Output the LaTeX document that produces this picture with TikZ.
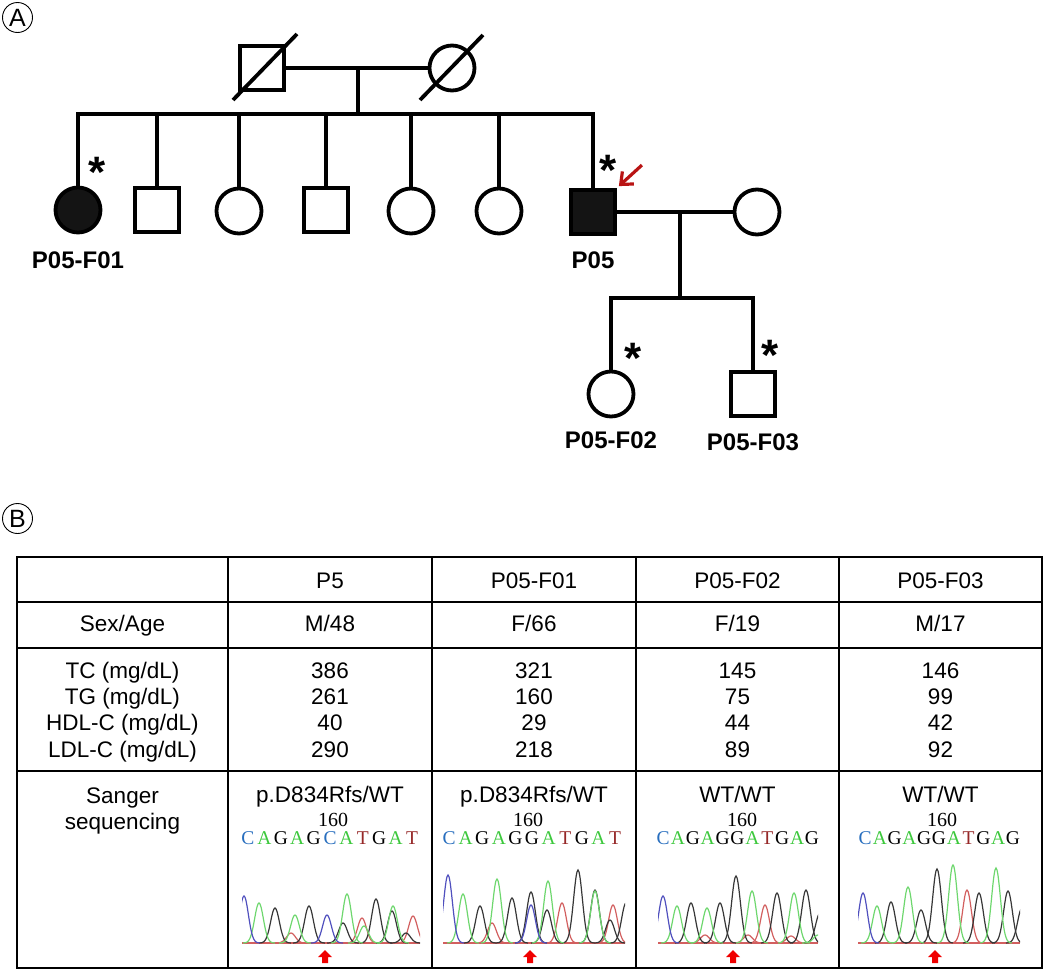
\documentclass[tikz,border=0pt]{standalone}
\usepackage{fontspec}
\setmainfont{Liberation Sans}
\newfontfamily\seqfont{Liberation Serif}
\usetikzlibrary{positioning,arrows.meta}
\definecolor{seqblue}{RGB}{40,110,190}
\definecolor{seqgreen}{RGB}{60,200,60}
\definecolor{seqred}{RGB}{150,40,40}
\definecolor{trblue}{RGB}{80,80,190}
\definecolor{trgreen}{RGB}{110,215,110}
\definecolor{trred}{RGB}{210,95,95}
\definecolor{trblack}{RGB}{55,55,55}
\definecolor{probred}{RGB}{185,20,20}
\definecolor{mutred}{RGB}{240,0,0}
\tikzset{
  male/.style={draw, rectangle, line width=3.8pt, minimum size=44pt, inner sep=0pt},
  female/.style={draw, circle, line width=3.8pt, minimum size=45pt, inner sep=0pt},
  affected/.style={fill=black!92},
  rel/.style={line width=3.8pt},
  idlabel/.style={font=\fontsize{24}{26}\selectfont\bfseries, inner sep=0pt},
  star/.style={font=\fontsize{44}{46}\selectfont\bfseries, inner sep=0pt, anchor=base},
  panel/.style={draw, circle, line width=0.9pt, minimum size=30pt, inner sep=0pt,
    font=\fontsize{25}{25}\selectfont},
  tab/.style={line width=1.8pt},
  cell/.style={font=\fontsize{22.5}{26}\selectfont, inner sep=0pt, anchor=base},
  num/.style={font=\fontsize{20}{22}\seqfont, inner sep=0pt, anchor=base},
  seq/.style={font=\fontsize{19.5}{20}\seqfont, inner sep=0pt, anchor=base},
  baseC/.style={text=seqblue},
  baseA/.style={text=seqgreen},
  baseG/.style={text=black},
  baseT/.style={text=seqred},
  trace/.style={line width=1.2pt},
  uparrow/.pic={\fill[mutred] (0,0) -- (7,7) -- (3,7) -- (3,13) -- (-3,13) -- (-3,7) -- (-7,7) -- cycle;}
}
% peaks of one dye channel: colour, list of centre/height
\newcommand{\peaks}[2]{%
  \foreach \c/\h in {#2}
    \draw[trace, #1] plot[domain=-16:16, samples=33, smooth] ({\c+\x},{943-\h*exp(-(\x/6.2)^2)});}
% called bases above a trace: tag, first x, spacing, list of bases
\newcommand{\seqrow}[4]{%
  \foreach \b [count=\i from 0] in {#4}
    \node[seq, base\b] (#1-\i) at (#2+\i*#3, 844) {\b};}

\begin{document}
\begin{tikzpicture}[x=1pt, y=-1pt]
  \useasboundingbox (0,0) rectangle (1047,972);

  %% (A) pedigree
  \node[panel] (pA) at (17.5,17.5) {A};
  \node[male] (gf) at (262,68) {};
  \node[female] (gm) at (452,68) {};
  \draw[rel] (gf.center) ++(-29,32) -- ++(64,-66);
  \draw[rel] (gm.center) ++(-32,32) -- ++(63,-65);
  \draw[rel] (gf) -- (gm);
  \coordinate (gpdrop) at (358,68);
  \coordinate (sib1) at (358,114);
  \draw[rel] (gpdrop) -- (sib1);

  % second generation
  \node[female, affected] (c1) at (78,210) {};
  \node[male]   (c2) at (157,210) {};
  \node[female] (c3) at (239,211) {};
  \node[male]   (c4) at (326,210) {};
  \node[female] (c5) at (411,211) {};
  \node[female] (c6) at (499,211) {};
  \node[male, affected] (p05) at (593,212) {};
  \node[female] (sp) at (757,212) {};
  \draw[rel] (c1.north) -- (c1.north |- sib1) -- (p05.north |- sib1) -- (p05.north);
  \foreach \k in {c2,c3,c4,c5,c6}
    \draw[rel] (\k.north) -- (\k.north |- sib1);
  \draw[rel] (p05) -- (sp);

  % third generation
  \coordinate (cpdrop) at (680,212);
  \coordinate (sib2) at (680,298);
  \draw[rel] (cpdrop) -- (sib2);
  \node[female] (f02) at (611,394) {};
  \node[male]   (f03) at (753,394) {};
  \draw[rel] (f02.north) -- (f02.north |- sib2) -- (f03.north |- sib2) -- (f03.north);

  % ids, tested marks, proband
  \node[idlabel] (l1) at (78,260) {P05-F01};
  \node[idlabel] (l2) at (593,260) {P05};
  \node[idlabel] (l3) at (611,440) {P05-F02};
  \node[idlabel] (l4) at (753,442) {P05-F03};
  \node[star] (s1) at (97,187) {*};
  \node[star] (s2) at (608,185) {*};
  \node[star] (s3) at (633,373) {*};
  \node[star] (s4) at (770,370) {*};
  \coordinate (probtip) at ([shift={(2,-2)}]p05.north east);
  \coordinate (probtail) at ([shift={(25,-23)}]p05.north east);
  \draw[probred, line width=3.2pt, -{Straight Barb[length=10pt,width=17pt]}] (probtail) -- (probtip);

  %% (B) table
  \node[panel] (pB) at (17.5,518.5) {B};
  \draw[tab] (17,557) rectangle (1042,968);
  \foreach \x in {228,432,636,839}
    \draw[tab] (\x,557) -- (\x,968);
  \foreach \y in {602,648,771}
    \draw[tab] (17,\y) -- (1042,\y);

  % row heads
  \node[cell] (h1) at (122.5,631) {Sex/Age};
  \node[cell] (h2) at (122.5,678) {TC (mg/dL)};
  \node[cell] (h3) at (122.5,704) {TG (mg/dL)};
  \node[cell] (h4) at (122.5,730) {HDL-C (mg/dL)};
  \node[cell] (h5) at (122.5,757) {LDL-C (mg/dL)};
  \node[cell] (h6) at (122.5,803) {Sanger};
  \node[cell] (h7) at (122.5,829) {sequencing};

  % one column per subject
  \foreach \cx/\id/\sa/\tc/\tg/\hdl/\ldl/\gt [count=\n] in
      {330/P5/M\slash 48/386/261/40/290/p.D834Rfs\slash WT,
       534/P05-F01/F\slash 66/321/160/29/218/p.D834Rfs\slash WT,
       737.5/P05-F02/F\slash 19/145/75/44/89/WT\slash WT,
       940.5/P05-F03/M\slash 17/146/99/42/92/WT\slash WT} {
    \node[cell] (id\n) at (\cx,588) {\id};
    \node[cell] (sa\n) at (\cx,631) {\sa};
    \node[cell] (tc\n) at (\cx,678) {\tc};
    \node[cell] (tg\n) at (\cx,704) {\tg};
    \node[cell] (hdl\n) at (\cx,730) {\hdl};
    \node[cell] (ldl\n) at (\cx,757) {\ldl};
    \node[cell] (gt\n) at (\cx,802) {\gt};
  }
  \node[num] (pos1) at (333,826) {160};
  \node[num] (pos2) at (528,826) {160};
  \node[num] (pos3) at (742,826) {160};
  \node[num] (pos4) at (942,826) {160};
  \seqrow{q1}{248}{16.4}{C,A,G,A,G,C,A,T,G,A,T}
  \seqrow{q2}{449}{16.6}{C,A,G,A,G,G,A,T,G,A,T}
  \seqrow{q3}{663}{14.9}{C,A,G,A,G,G,A,T,G,A,G}
  \seqrow{q4}{865}{14.8}{C,A,G,A,G,G,A,T,G,A,G}

  % chromatograms
  \begin{scope}
    \clip (242,850) rectangle (420,944);
    \draw[trace, trred] (242,943) -- (420,943);
    \peaks{trred}{291/10,362/25,413/27}
    \peaks{trblack}{275/35,309/37,343/20,376/44,392/32,406/10}
    \peaks{trgreen}{259/40,295/28,347/49,364/17,393/37}
    \peaks{trblue}{244/47,327/28}
  \end{scope}
  \begin{scope}
    \clip (443,850) rectangle (625,944);
    \draw[trace, trred] (443,943) -- (625,943);
    \peaks{trred}{492/20,562/40,613/38}
    \peaks{trblack}{480/37,512/45,531/51,547/33,578/73,595/53,610/23,626/40}
    \peaks{trgreen}{463/49,497/64,548/62,595/52}
    \peaks{trblue}{448/68,531/38}
  \end{scope}
  \begin{scope}
    \clip (658,850) rectangle (818,944);
    \draw[trace, trred] (658,943) -- (818,943);
    \peaks{trred}{705/8,748/8,765/38,791/7}
    \peaks{trblack}{691/40,720/40,736/67,777/50,806/53,820/30}
    \peaks{trgreen}{677/37,707/35,752/52,794/50,818/8}
    \peaks{trblue}{663/47}
  \end{scope}
  \begin{scope}
    \clip (858,850) rectangle (1020,944);
    \draw[trace, trred] (858,943) -- (1020,943);
    \peaks{trred}{967/53}
    \peaks{trblack}{891/41,921/33,937/74,979/50,1008/52,1022/35}
    \peaks{trgreen}{877/37,908/56,953/78,996/75}
    \peaks{trblue}{863/50}
  \end{scope}
  \pic (m1) at (325,950) {uparrow};
  \pic (m2) at (530,950) {uparrow};
  \pic (m3) at (733,950) {uparrow};
  \pic (m4) at (935,950) {uparrow};
\end{tikzpicture}
\end{document}
